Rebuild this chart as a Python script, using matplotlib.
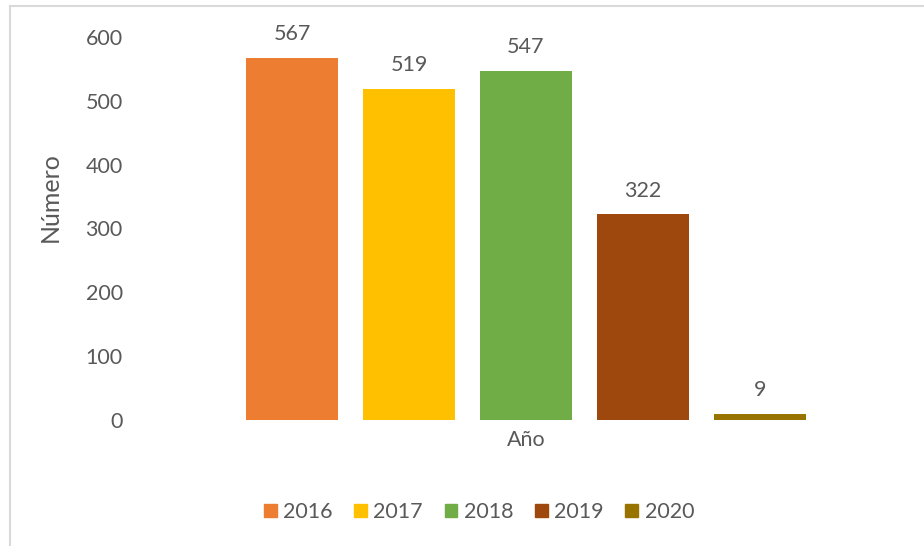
import matplotlib
matplotlib.use("Agg")
import matplotlib.pyplot as plt
from matplotlib.patches import Rectangle
from matplotlib.lines import Line2D

years = ["2016", "2017", "2018", "2019", "2020"]
values = [567, 519, 547, 322, 9]
colors = ["#ED7D31", "#FFC000", "#70AD47", "#9E480E", "#997300"]
category = "Año"
ylabel = "Número"
yticks = [0, 100, 200, 300, 400, 500, 600]

plt.rcParams['font.family'] = ['Lato', 'DejaVu Sans']
txt = "#595959"
FS = 15.5

W, H = 924, 546
fig = plt.figure(figsize=(W / 100, H / 100), dpi=100)

# chart border (left and top visible)
fig.add_artist(Line2D([9.5 / W, 9.5 / W], [0, 1 - 6 / H], transform=fig.transFigure,
                      color="#D9D9D9", lw=1.5))
fig.add_artist(Line2D([9.5 / W, 1], [1 - 6 / H, 1 - 6 / H], transform=fig.transFigure,
                      color="#D9D9D9", lw=1.5))

left, right = 145 / W, 907 / W
bottom, top = (H - 420) / H, (H - 37) / H
ax = fig.add_axes([left, bottom, right - left, top - bottom])

xs = list(range(len(years)))
bars = ax.bar(xs, values, width=0.786, color=colors, label=years)
for x, v in zip(xs, values):
    ax.annotate(str(v), (x, v), xytext=(0, 10), textcoords="offset points",
                ha="center", va="bottom", fontsize=FS, color=txt)

ax.set_ylim(0, 600)
ax.set_xlim(-1.256, 5.256)
ax.set_yticks(yticks)
ax.set_yticklabels([str(t) for t in yticks], fontsize=FS, color=txt)
ax.tick_params(axis="y", length=0, pad=16)
ax.set_xticks([])
for s in ax.spines.values():
    s.set_visible(False)

fig.text(526 / W, 1 - 440 / H, category, ha="center", va="center", fontsize=FS, color=txt)
fig.text(50 / W, 1 - 197 / H, ylabel, ha="center", va="center", rotation=90,
         fontsize=18, color=txt)

handles = [Rectangle((0, 0), 1, 1, color=c) for c in colors]
leg = fig.legend(handles, years, loc="center", bbox_to_anchor=(479 / W, 1 - 512 / H),
                 ncol=5, frameon=False, fontsize=FS, handlelength=0.6, handleheight=0.6,
                 handletextpad=0.3, columnspacing=1.0, labelcolor=txt)

fig.savefig("out.png", dpi=100)
